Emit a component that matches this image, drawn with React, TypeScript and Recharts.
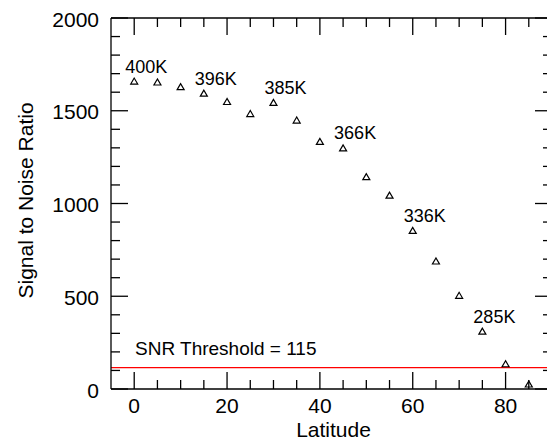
import React from 'react';
import { ScatterChart, Scatter, XAxis, YAxis, ReferenceLine } from 'recharts';

const latitudes = [0, 5, 10, 15, 20, 25, 30, 35, 40, 45, 50, 55, 60, 65, 70, 75, 80, 85];
const snrValues = [1660, 1655, 1630, 1595, 1550, 1485, 1545, 1450, 1335, 1300, 1145, 1045, 855, 690, 505, 312, 136, 27];
const tempLabels = ['400K', '', '', '396K', '', '', '385K', '', '', '366K', '', '', '336K', '', '', '285K', '', ''];
const xTicks = [0, 5, 10, 15, 20, 25, 30, 35, 40, 45, 50, 55, 60, 65, 70, 75, 80, 85];
const xMajorTicks = [0, 20, 40, 60, 80];
const yTicks = [0, 100, 200, 300, 400, 500, 600, 700, 800, 900, 1000, 1100, 1200, 1300, 1400, 1500, 1600, 1700, 1800, 1900, 2000];
const yMajorTicks = [0, 500, 1000, 1500, 2000];
const xDomain = [-5, 90];
const yDomain = [0, 2000];
const threshold = 115;
const thresholdText = 'SNR Threshold = 115';
const xTitle = 'Latitude';
const yTitle = 'Signal to Noise Ratio';

const data = latitudes.map((lat, i) => ({ lat, snr: snrValues[i], label: tempLabels[i] }));

// layout
const CHART_W = 552;
const CHART_H = 440;
const MARGIN_TOP = 18;
const Y_AXIS_W = 111;
const X_AXIS_H = 51;
const PLOT_W = CHART_W - Y_AXIS_W;
const PLOT_H = CHART_H - MARGIN_TOP - X_AXIS_H;

const FONT = '"Liberation Sans", Arial, Helvetica, sans-serif';
const MAJOR = 17;
const MINOR = 9;
const INK = '#000';
const TW = 1.3;

const XTick = (props: any) => {
  const { x, y, payload, index } = props;
  const major = xMajorTicks.includes(payload.value);
  const len = major ? MAJOR : MINOR;
  const top = y - PLOT_H;
  return (
    <g>
      <line x1={x} x2={x} y1={y} y2={y - len} stroke={INK} strokeWidth={TW} />
      <line x1={x} x2={x} y1={top} y2={top + len} stroke={INK} strokeWidth={TW} />
      {major && (
        <text x={x} y={y + 24.3} textAnchor="middle" fontFamily={FONT} fontSize={21} fill="#000">
          {payload.value}
        </text>
      )}
      {index === 0 && (
        <text x={Y_AXIS_W + PLOT_W / 2 + 2} y={CHART_H - 3.5} textAnchor="middle" fontFamily={FONT} fontSize={21} fill="#000">
          {xTitle}
        </text>
      )}
    </g>
  );
};

const YTick = (props: any) => {
  const { x, y, payload, index } = props;
  const major = yMajorTicks.includes(payload.value);
  const len = major ? MAJOR : MINOR;
  const right = x + PLOT_W;
  return (
    <g>
      <line x1={x} x2={x + len} y1={y} y2={y} stroke={INK} strokeWidth={TW} />
      <line x1={right} x2={right - len} y1={y} y2={y} stroke={INK} strokeWidth={TW} />
      {major && (
        <text x={x - 12} y={y + 8.5} textAnchor="end" fontFamily={FONT} fontSize={21} fill="#000">
          {payload.value}
        </text>
      )}
      {index === 0 && (
        <text
          transform={`translate(33.3,${MARGIN_TOP + PLOT_H / 2 - 3}) rotate(-90)`}
          x={0}
          y={0}
          textAnchor="middle"
          fontFamily={FONT}
          fontSize={21}
          fill="#000"
        >
          {yTitle}
        </text>
      )}
    </g>
  );
};

const TriangleShape = (props: any) => {
  const { cx, cy, payload } = props;
  if (cx == null || cy == null) return null;
  const pts = `${cx},${cy - 3} ${cx - 3.5},${cy + 3} ${cx + 3.5},${cy + 3}`;
  return (
    <g>
      <polygon points={pts} fill="none" stroke="#000" strokeWidth={1.2} />
      {payload && payload.label ? (
        <text x={cx - 9} y={cy - 8.5} textAnchor="start" fontFamily={FONT} fontSize={18} fill="#000">
          {payload.label}
        </text>
      ) : null}
    </g>
  );
};

const ThresholdLabel = (props: any) => {
  const vb = props.viewBox || { x: Y_AXIS_W, y: 369 };
  return (
    <text x={vb.x + 24} y={vb.y - 13} textAnchor="start" fontFamily={FONT} fontSize={19} fill="#000">
      {thresholdText}
    </text>
  );
};

export default function App() {
  return (
    <div style={{ position: 'absolute', left: 0, top: 0, width: 547, height: 440, overflow: 'hidden', background: '#fff' }}>
      <ScatterChart width={CHART_W} height={CHART_H} margin={{ top: MARGIN_TOP, right: 0, bottom: 0, left: 0 }}>
        <XAxis
          dataKey="lat"
          type="number"
          domain={xDomain}
          allowDataOverflow
          ticks={xTicks}
          interval={0}
          tickSize={0}
          tickMargin={0}
          tickLine={false}
          axisLine={{ stroke: INK, strokeWidth: TW }}
          height={X_AXIS_H}
          tick={<XTick />}
        />
        <YAxis
          dataKey="snr"
          type="number"
          domain={yDomain}
          allowDataOverflow
          ticks={yTicks}
          interval={0}
          tickSize={0}
          tickMargin={0}
          tickLine={false}
          axisLine={{ stroke: INK, strokeWidth: TW }}
          width={Y_AXIS_W}
          tick={<YTick />}
        />
        <ReferenceLine y={yDomain[1]} stroke={INK} strokeWidth={TW} />
        <ReferenceLine y={threshold} stroke="#ff0000" strokeWidth={1.2} label={<ThresholdLabel />} />
        <Scatter data={data} dataKey="snr" isAnimationActive={false} shape={<TriangleShape />} />
      </ScatterChart>
    </div>
  );
}
